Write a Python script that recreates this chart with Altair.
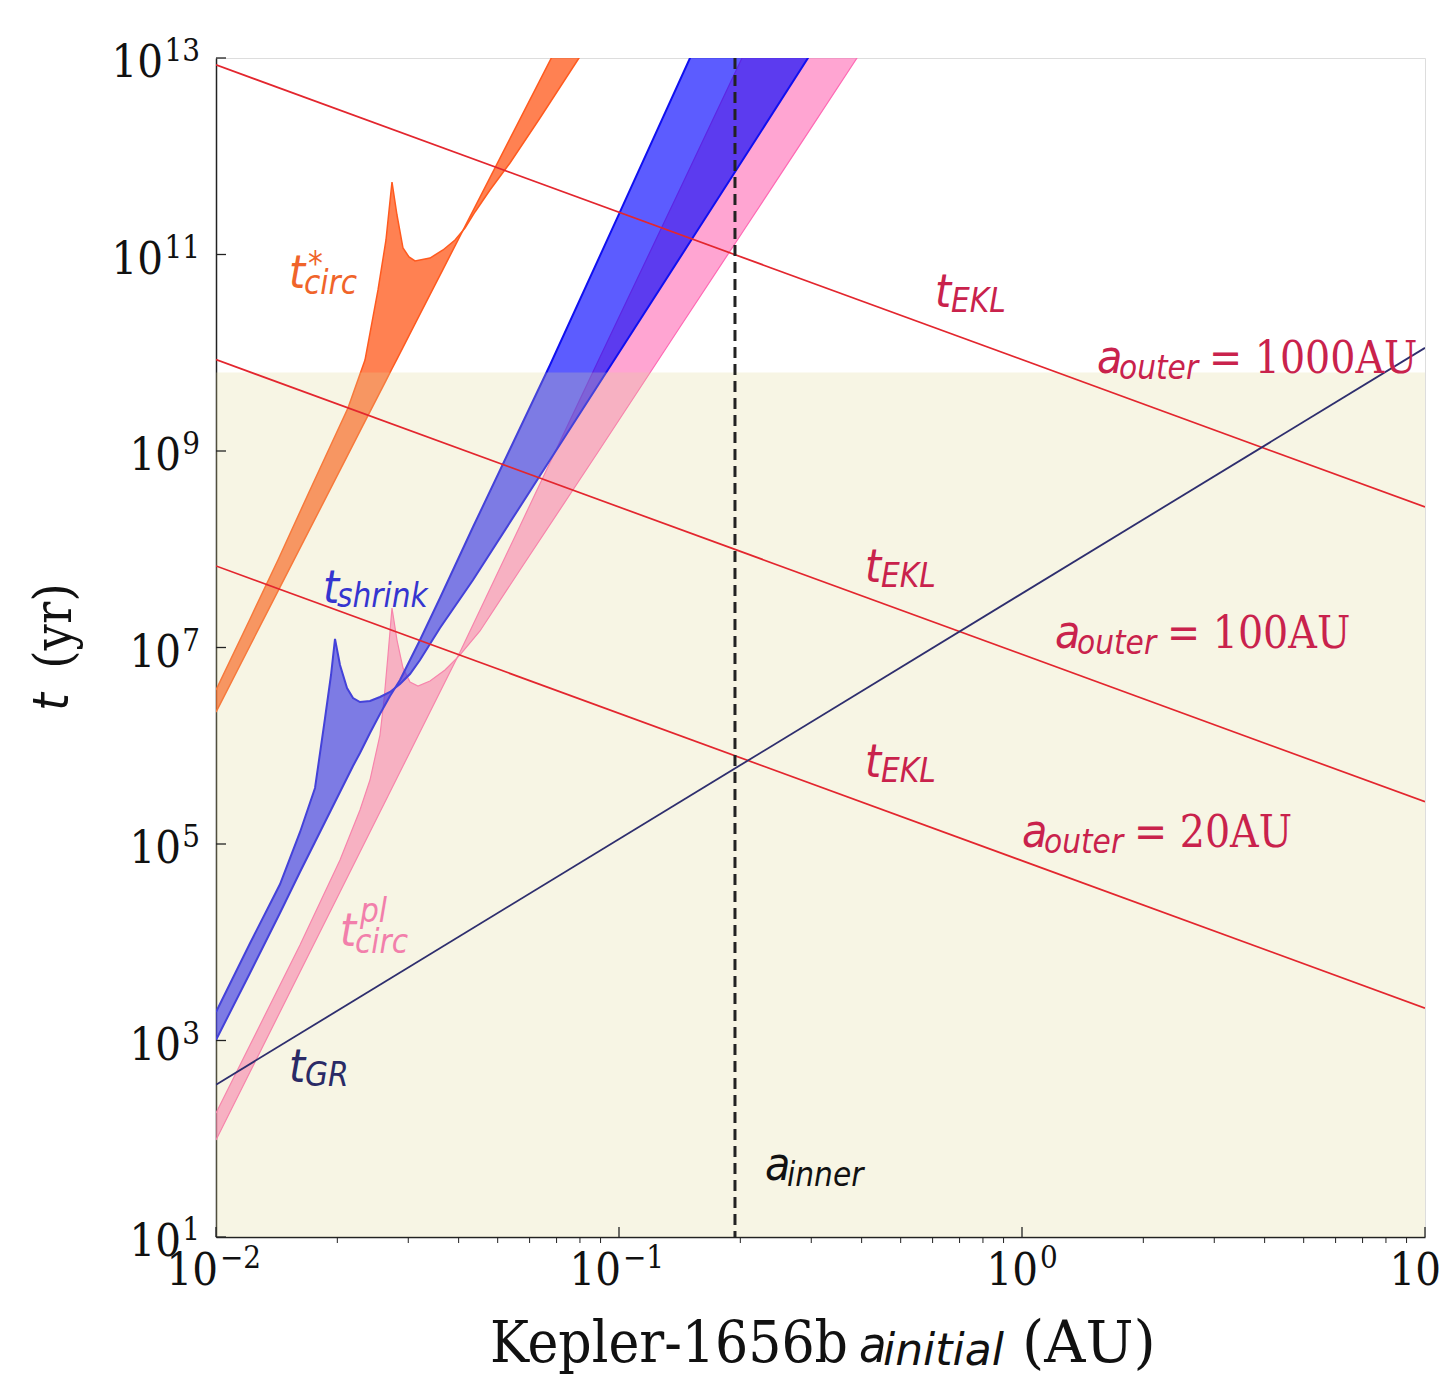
import altair as alt
import numpy as np
import pandas as pd

# ---------------- data (log10 units) ----------------
# t*_circ band (orange)
orange_log_a = [-2.000, -1.9156, -1.8462, -1.7667, -1.6725, -1.6303, -1.5980, -1.5782, -1.5633,
                -1.5509, -1.5360, -1.5211, -1.5062, -1.4690, -1.4367, -1.4069, -1.3821, -1.3573,
                -1.3201, -1.2705, -1.1960, -1.0993, -1.0471]
orange_log_t1 = [6.343, 7.018, 7.573, 8.209, 8.963, 9.301, 9.559, 9.717, 9.837, 9.936, 10.055,
                 10.174, 10.293, 10.591, 10.849, 11.088, 11.286, 11.485, 11.782, 12.179, 12.775,
                 13.549, 13.966]
orange_log_t2 = [6.567, 7.290, 7.891, 8.603, 9.438, 9.926, 10.639, 11.148, 11.738, 11.402, 11.066,
                 10.975, 10.934, 10.964, 11.046, 11.148, 11.270, 11.433, 11.656, 11.931, 12.389,
                 13.000, 13.326]

# t_shrink band (blue)
blue_log_a = [-2.0, -1.9156, -1.8412, -1.7916, -1.7543, -1.7295, -1.7146, -1.7047, -1.6923,
              -1.6749, -1.6600, -1.6427, -1.6179, -1.5931, -1.5682, -1.5434, -1.5186, -1.4938,
              -1.4442, -1.3623, -1.1712, -0.9975, -0.8238, -0.6501, -0.5310, -0.4764]
blue_log_t1 = [3.005, 3.687, 4.298, 4.715, 5.020, 5.224, 5.346, 5.427, 5.529, 5.672, 5.794, 5.926,
               6.130, 6.323, 6.506, 6.669, 6.873, 7.076, 7.504, 8.226, 9.875, 11.433, 13.000,
               14.537, 15.585, 16.064]
blue_log_t2 = [3.290, 3.990, 4.590, 5.120, 5.570, 6.280, 6.720, 7.087, 6.822, 6.588, 6.486, 6.445,
               6.455, 6.496, 6.547, 6.628, 6.730, 6.873, 7.198, 7.687, 8.908, 10.018, 11.127,
               12.237, 13.000, 13.346]

# t^pl_circ band (pink)
pink_log_a = [-2.0, -1.9156, -1.7916, -1.6923, -1.6427, -1.6179, -1.5931, -1.5831, -1.5732,
              -1.5633, -1.5509, -1.5360, -1.5186, -1.4988, -1.4690, -1.4318, -1.3945, -1.3449,
              -1.2457, -1.0471, -0.8486, -0.6948, -0.5509, -0.4094, -0.3524]
pink_log_t1 = [1.987, 2.679, 3.697, 4.511, 4.919, 5.122, 5.326, 5.407, 5.489, 5.570, 5.672, 5.794,
               5.936, 6.099, 6.344, 6.649, 6.954, 7.382, 8.237, 9.957, 11.667, 13.000, 14.242,
               15.463, 15.962]
pink_log_t2 = [2.262, 2.954, 3.972, 4.837, 5.346, 5.651, 6.109, 6.466, 6.924, 7.402, 7.076, 6.791,
               6.649, 6.608, 6.659, 6.771, 6.924, 7.168, 7.789, 9.020, 10.262, 11.219, 12.115,
               13.000, 13.356]

# straight timescales at a = 0.01 and a = 10 AU
line_a = [0.01, 10.0]
ekl_1000_log_t = [12.93, 8.43]
ekl_100_log_t = [9.93, 5.43]
ekl_20_log_t = [7.83, 3.33]
gr_log_t = [2.55, 10.05]

a_inner = 0.194
age_log_t = 9.80

# ticks and their labels (base 10 with exponent)
x_ticks = [0.01, 0.1, 1, 10]
x_tick_exps = ["−2", "−1", "0", "1"]
x_minor_ticks = [m * 10.0 ** k for k in (-2, -1, 0) for m in range(2, 10)]
y_ticks = [1e1, 1e3, 1e5, 1e7, 1e9, 1e11, 1e13]
y_tick_exps = ["1", "3", "5", "7", "9", "11", "13"]

# label anchors (log10 a, log10 t)
lab_tcirc_star = (-1.8189, 10.659)
lab_tshrink = (-1.7345, 7.453)
lab_tcirc_pl = (-1.6923, 3.962)
lab_tgr = (-1.8189, 2.578)
lab_ainner = (-0.6377, 1.580)
lab_tekl = [(-0.2159, 10.466), (-0.3896, 7.667), (-0.3896, 5.682)]
lab_aouter = [(0.1861, 9.794), (0.0819, 6.995), (0.0000, 4.969)]
aouter_texts = ["= 1000AU", "= 100AU", "= 20AU"]

# ---------------- styling ----------------
W, H = 1209, 1179
SANS = "'DejaVu Sans Condensed', 'DejaVu Sans', sans-serif"
SANS_W = "'DejaVu Sans', sans-serif"
SERIF = "'DejaVu Serif Condensed', 'DejaVu Serif', serif"
SERIF_W = "'DejaVu Serif', serif"
MAIN_FS = 46
SUB_FS = 33
TICK_FS = 45
EXP_FS = 31
AXC = "#222222"

xs = alt.Scale(type="log", domain=[0.01, 10], nice=False)
ys = alt.Scale(type="log", domain=[10, 1e13], nice=False)

x_axis = alt.Axis(values=x_ticks, labels=False, title=None, grid=False, ticks=False,
                  domainColor=AXC, domainWidth=1.5)
y_axis = alt.Axis(values=y_ticks, labels=False, title=None, grid=False, ticks=False,
                  domainColor=AXC, domainWidth=1.5)


def X(field):
    return alt.X(field, type="quantitative", scale=xs, axis=x_axis)


def Y(field):
    return alt.Y(field, type="quantitative", scale=ys, axis=y_axis)


def band(loga, t1, t2, fill, fop, edge, ew):
    df = pd.DataFrame({"a": 10 ** np.array(loga), "t1": 10 ** np.array(t1), "t2": 10 ** np.array(t2)})
    area = alt.Chart(df).mark_area(color=fill, opacity=fop, clip=True).encode(
        x=X("a"), y=Y("t1"), y2="t2")
    e1 = alt.Chart(df).mark_line(color=edge, strokeWidth=ew, clip=True).encode(x=X("a"), y=Y("t1"))
    e2 = alt.Chart(df).mark_line(color=edge, strokeWidth=ew, clip=True).encode(x=X("a"), y=Y("t2"))
    return [area, e1, e2]


def straight(logt, color, w):
    df = pd.DataFrame({"a": line_a, "t": 10 ** np.array(logt)})
    return alt.Chart(df).mark_line(color=color, strokeWidth=w, clip=True).encode(x=X("a"), y=Y("t"))


def text_at(pos_list, texts, size, color, font=SANS, style="italic", dx=0, dy=0):
    df = pd.DataFrame({"a": [10 ** p[0] for p in pos_list], "t": [10 ** p[1] for p in pos_list],
                       "label": texts})
    return alt.Chart(df).mark_text(align="left", baseline="alphabetic", dx=dx, dy=dy, fontSize=size,
                                   font=font, fontStyle=style, color=color).encode(
        x=X("a"), y=Y("t"), text="label:N")


def text_px(x, y, txt, size, font, style="normal", align="left", baseline="alphabetic", angle=0,
            color="#111"):
    return alt.Chart(pd.DataFrame({"k": [0]})).mark_text(
        align=align, baseline=baseline, fontSize=size, font=font, fontStyle=style, angle=angle,
        color=color).encode(x=alt.value(x), y=alt.value(y), text=alt.value(txt))


layers = []
layers += band(orange_log_a, orange_log_t1, orange_log_t2, "#ff4500", 0.68, "#ff5a1f", 1.5)
layers += band(pink_log_a, pink_log_t1, pink_log_t2, "#ff69b4", 0.6, "#ff69b4", 1.2)
layers += band(blue_log_a, blue_log_t1, blue_log_t2, "#0000ff", 0.64, "#1010f0", 2.0)

# beige zone (t < age)
beige = pd.DataFrame({"a0": [0.01], "a1": [10.0], "t0": [1.0], "t1": [10 ** age_log_t]})
layers.append(alt.Chart(beige).mark_rect(color="#dfd793", opacity=0.25, clip=True).encode(
    x=X("a0"), x2="a1", y=Y("t0"), y2="t1"))

RED = "#e3262e"
layers.append(straight(ekl_1000_log_t, RED, 1.7))
layers.append(straight(ekl_100_log_t, RED, 1.7))
layers.append(straight(ekl_20_log_t, RED, 1.7))
layers.append(straight(gr_log_t, "#2e2e6e", 1.8))

inner = pd.DataFrame({"a": [a_inner]})
layers.append(alt.Chart(inner).mark_rule(color="#222", strokeWidth=3, strokeDash=[11, 6]).encode(
    x=X("a")))

# tick marks: major inward, minor (x) outward
layers.append(alt.Chart(pd.DataFrame({"t": y_ticks})).mark_rule(color=AXC, strokeWidth=1.3).encode(
    y=Y("t"), x=alt.value(0), x2=alt.value(10)))
layers.append(alt.Chart(pd.DataFrame({"a": x_ticks})).mark_rule(color=AXC, strokeWidth=1.3).encode(
    x=X("a"), y=alt.value(H), y2=alt.value(H - 10)))
layers.append(alt.Chart(pd.DataFrame({"a": x_minor_ticks})).mark_rule(color=AXC, strokeWidth=1.0).encode(
    x=X("a"), y=alt.value(H), y2=alt.value(H + 6)))

# tick labels: "10" with a raised exponent
ylab = pd.DataFrame({"t": y_ticks, "exp": y_tick_exps})
ylab["nd"] = ylab["exp"].str.len()
layers.append(alt.Chart(ylab).mark_text(align="right", baseline="alphabetic", dx=-16, dy=3,
                                        fontSize=EXP_FS, font=SERIF, color="#111").encode(
    x=alt.value(0), y=Y("t"), text="exp:N"))
for nd, off in ((1, -35), (2, -53)):
    layers.append(alt.Chart(ylab[ylab["nd"] == nd]).mark_text(
        align="right", baseline="alphabetic", dx=off, dy=19, fontSize=TICK_FS, font=SERIF,
        color="#111").encode(x=alt.value(0), y=Y("t"), text=alt.value("10")))

xlab = pd.DataFrame({"a": x_ticks, "exp": x_tick_exps})
xlab["neg"] = xlab["exp"].str.startswith("−")
for neg, off in ((True, 2), (False, 16)):
    sub = xlab[xlab["neg"] == neg]
    layers.append(alt.Chart(sub).mark_text(align="right", baseline="alphabetic", dx=off, dy=48,
                                           fontSize=TICK_FS, font=SERIF, color="#111").encode(
        x=X("a"), y=alt.value(H), text=alt.value("10")))
    layers.append(alt.Chart(sub).mark_text(align="left", baseline="alphabetic", dx=off + 2, dy=31,
                                           fontSize=EXP_FS, font=SERIF, color="#111").encode(
        x=X("a"), y=alt.value(H), text="exp:N"))

# curve labels
ORANGE_T = "#f0642a"
layers.append(text_at([lab_tcirc_star], ["t"], MAIN_FS, ORANGE_T))
layers.append(text_at([lab_tcirc_star], ["*"], SUB_FS, ORANGE_T, dx=19, dy=-13))
layers.append(text_at([lab_tcirc_star], ["circ"], SUB_FS, ORANGE_T, dx=15, dy=6))

BLUE_T = "#3535d0"
layers.append(text_at([lab_tshrink], ["t"], MAIN_FS, BLUE_T))
layers.append(text_at([lab_tshrink], ["shrink"], SUB_FS, BLUE_T, dx=14, dy=4))

PINK_T = "#f27fab"
layers.append(text_at([lab_tcirc_pl], ["t"], MAIN_FS, PINK_T))
layers.append(text_at([lab_tcirc_pl], ["pl"], SUB_FS, PINK_T, dx=20, dy=-24))
layers.append(text_at([lab_tcirc_pl], ["circ"], SUB_FS, PINK_T, dx=15, dy=7))

NAVY_T = "#2a2a66"
layers.append(text_at([lab_tgr], ["t"], MAIN_FS, NAVY_T))
layers.append(text_at([lab_tgr], ["GR"], SUB_FS, NAVY_T, dx=16, dy=4))

layers.append(text_at([lab_ainner], ["a"], MAIN_FS, "#111"))
layers.append(text_at([lab_ainner], ["inner"], SUB_FS, "#111", dx=22, dy=6))

CRIM = "#c9224c"
layers.append(text_at(lab_tekl, ["t"] * 3, MAIN_FS, CRIM))
layers.append(text_at(lab_tekl, ["EKL"] * 3, SUB_FS, CRIM, dx=16, dy=5))
layers.append(text_at(lab_aouter, ["a"] * 3, MAIN_FS, CRIM))
layers.append(text_at(lab_aouter, ["outer"] * 3, SUB_FS, CRIM, dx=22, dy=6))
layers.append(text_at(lab_aouter, aouter_texts, 44, CRIM, font=SERIF, style="normal", dx=112))

# axis titles
layers.append(text_px(632, 1304, "Kepler-1656b", 58, SERIF, align="right"))
layers.append(text_px(643, 1304, "a", 50, SANS, style="italic"))
layers.append(text_px(667, 1307, "initial", 44, SANS_W, style="italic"))
layers.append(text_px(806, 1304, "(AU)", 57, SERIF_W))
layers.append(text_px(-163, 644, "t", 50, SANS, style="italic", align="center", baseline="middle",
                      angle=270))
layers.append(text_px(-161, 568, "(yr)", 52, SERIF, align="center", baseline="middle", angle=270))

chart = alt.layer(*layers).properties(
    width=W, height=H,
    padding={"left": 208, "top": 50, "right": 20, "bottom": 139},
    autosize=alt.AutoSizeParams(type="none"),
).configure_view(stroke=AXC, strokeWidth=1.5).configure(background="white")

chart.save("out.html", embed_options={"renderer": "svg", "actions": False})
